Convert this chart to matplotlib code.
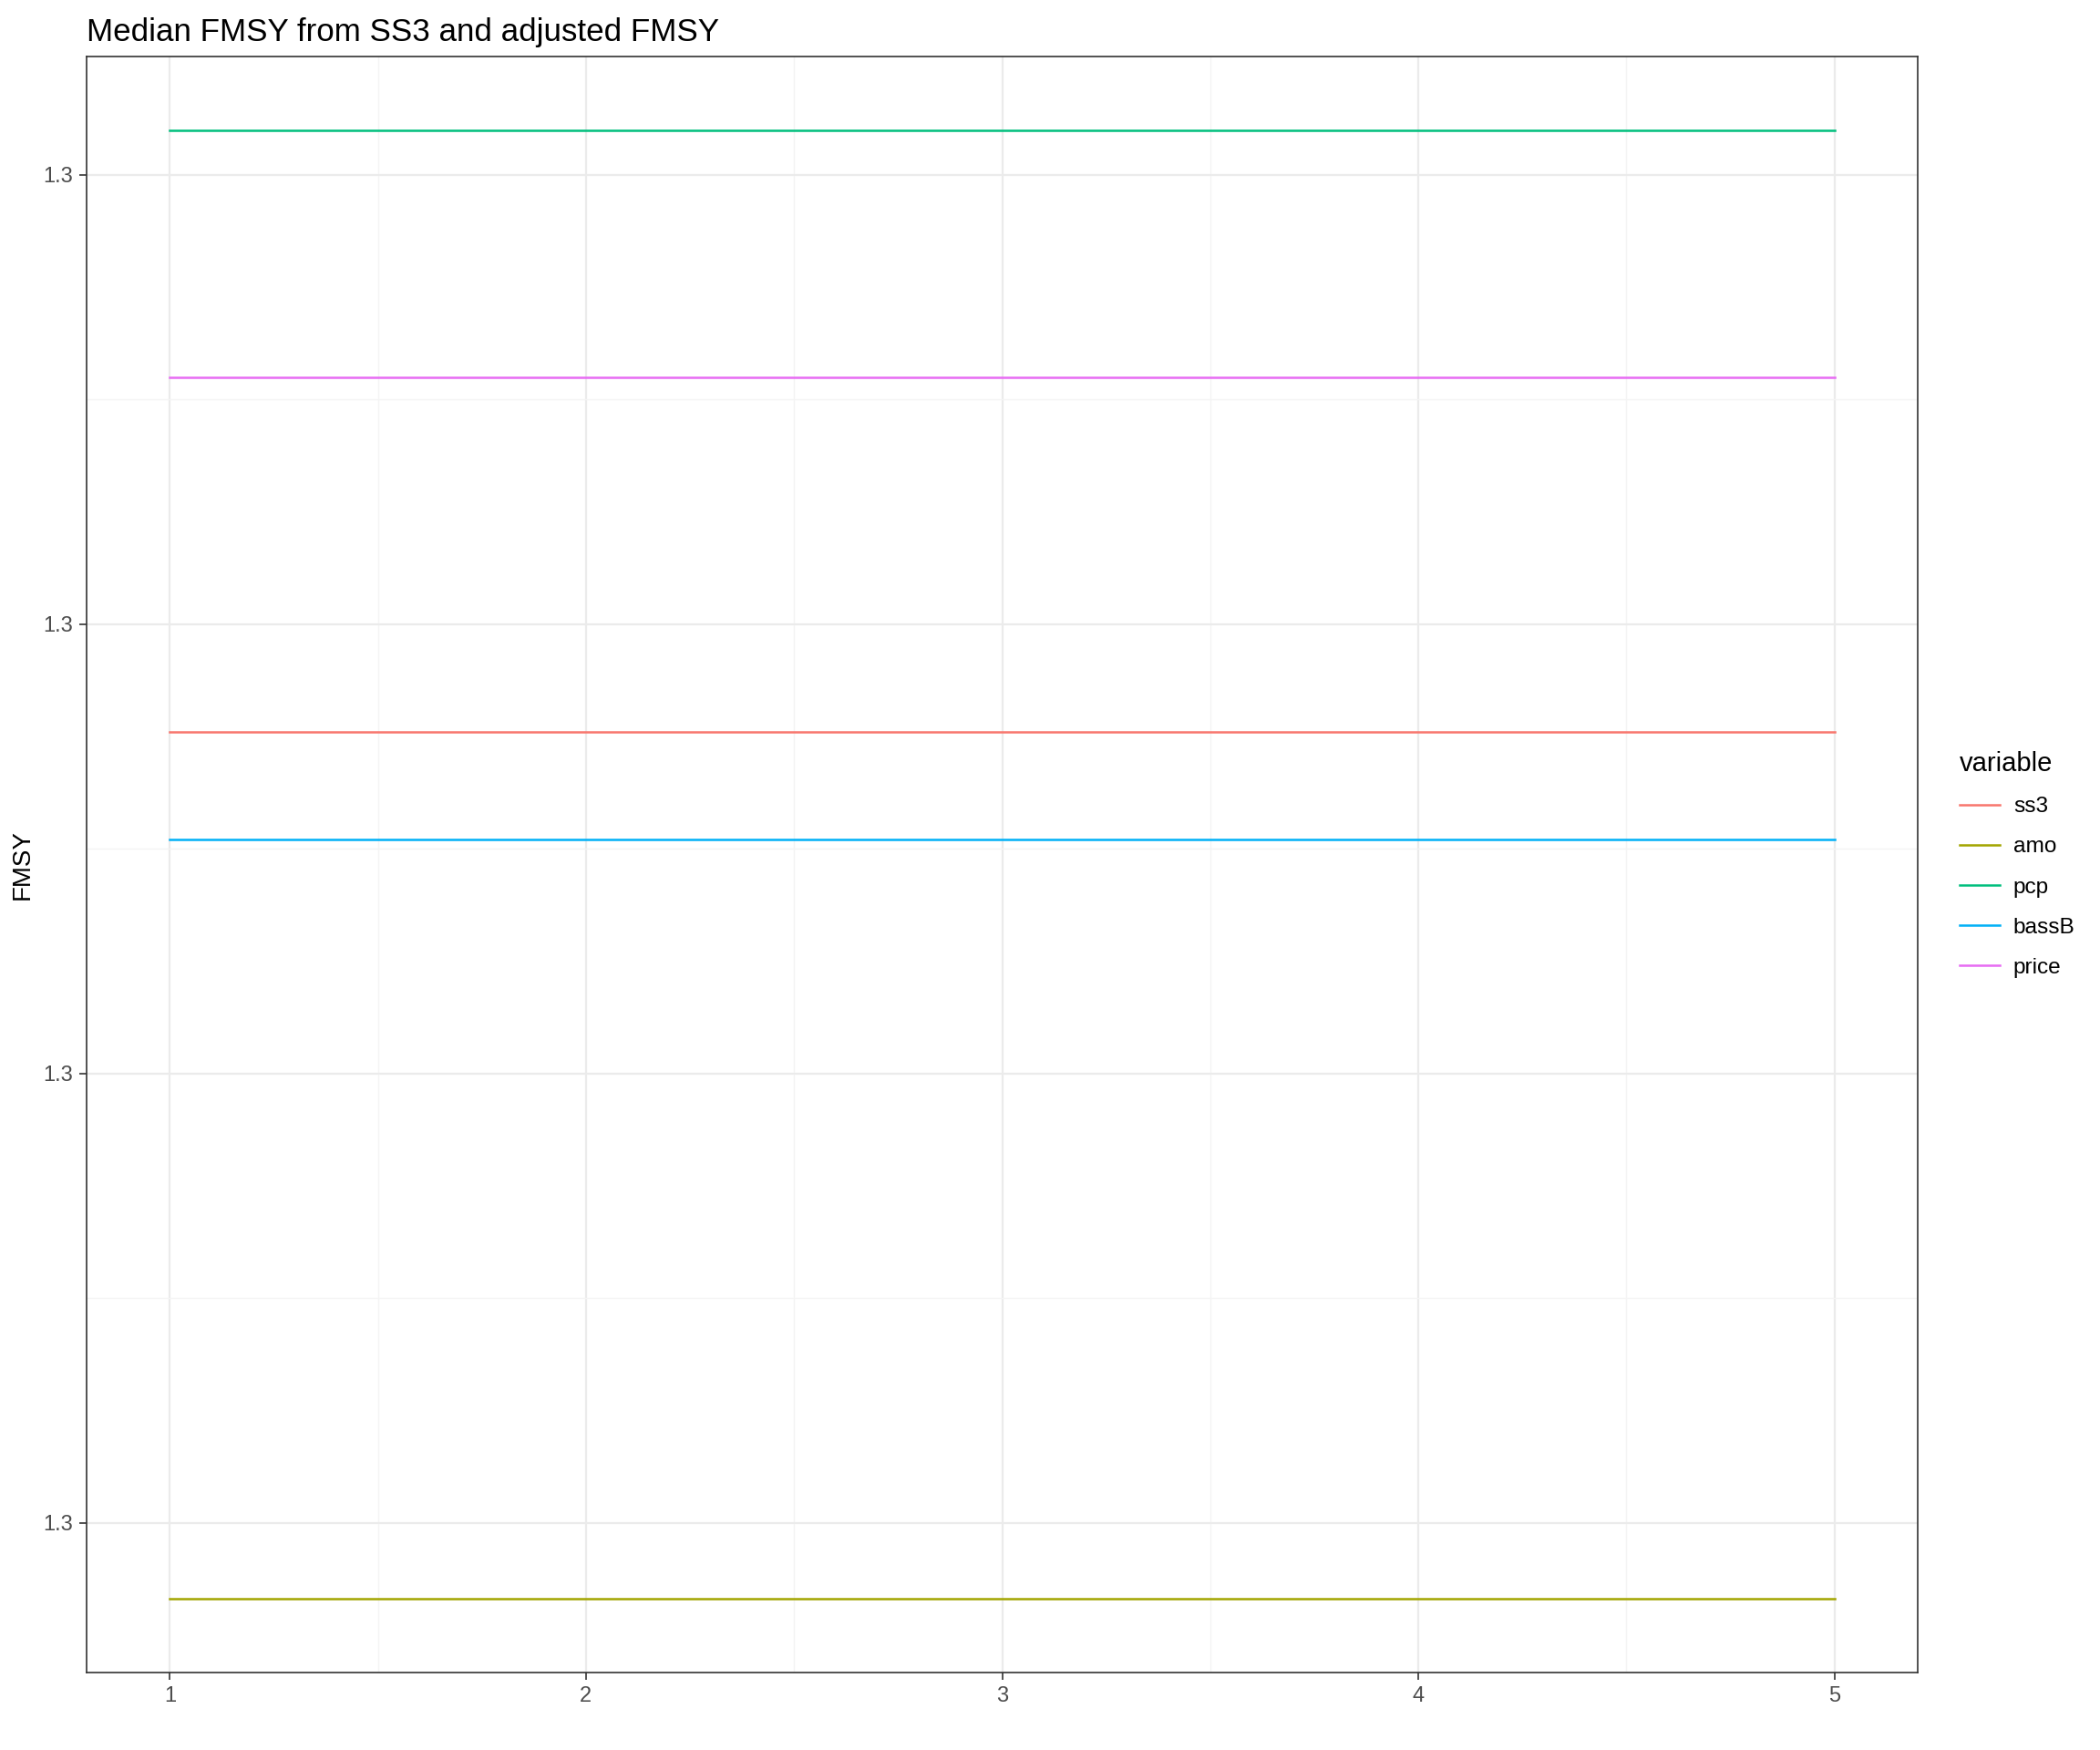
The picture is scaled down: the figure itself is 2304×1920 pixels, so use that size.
import matplotlib
matplotlib.use("Agg")
import matplotlib.pyplot as plt
from matplotlib.ticker import FixedLocator, FormatStrFormatter

plt.rcParams['font.family'] = ['Liberation Sans', 'DejaVu Sans']

# model years on the x axis
years = [1, 2, 3, 4, 5]

# median FMSY per series (differences are far below the label precision)
ss3 = [1.3000000176] * 5
amo = [1.2999999983] * 5
pcp = [1.3000000310] * 5
bassB = [1.3000000152] * 5
price = [1.3000000255] * 5

series_names = ['ss3', 'amo', 'pcp', 'bassB', 'price']
series_values = [ss3, amo, pcp, bassB, price]
colors = ['#F8766D', '#A3A500', '#00BF7D', '#00B0F6', '#E76BF3']

y_ticks = [1.30000000, 1.30000001, 1.30000002, 1.30000003]
y_minor = [1.299999995, 1.300000005, 1.300000015, 1.300000025]

fig = plt.figure(figsize=(11.52, 9.6), dpi=200)
ax = fig.add_axes([95 / 2304, 1 - 1835 / 1920, (2104 - 95) / 2304, (1835 - 62) / 1920])

for name, vals, c in zip(series_names, series_values, colors):
    ax.plot(years, vals, color=c, lw=0.9, label=name, zorder=3)

ax.margins(x=0.05, y=0.05)
ax.set_xticks(years)
ax.yaxis.set_major_locator(FixedLocator(y_ticks))
ax.yaxis.set_minor_locator(FixedLocator(y_minor))
ax.xaxis.set_minor_locator(FixedLocator([1.5, 2.5, 3.5, 4.5]))
ax.yaxis.set_major_formatter(FormatStrFormatter('%.1f'))
ax.yaxis.get_offset_text().set_visible(False)

ax.grid(True, which='major', color='#EBEBEB', lw=0.8, zorder=0)
ax.grid(True, which='minor', color='#F4F4F4', lw=0.5, zorder=0)
ax.set_axisbelow(True)

for s in ax.spines.values():
    s.set_color('#333333')
    s.set_linewidth(0.6)

ax.tick_params(which='major', length=2.9, width=0.6, color='#333333',
               labelsize=8.5, labelcolor='#4D4D4D', pad=2.5)
ax.tick_params(which='minor', length=0)

ax.set_ylabel('FMSY', fontsize=10, labelpad=3.5)
ax.set_title('Median FMSY from SS3 and adjusted FMSY', loc='left', fontsize=12.6, pad=6)

leg = ax.legend(loc='center left', bbox_to_anchor=(1.012, 0.5), frameon=False,
                title='variable', fontsize=8.8, title_fontsize=10.5,
                handlelength=1.8, handletextpad=0.6, labelspacing=0.9,
                alignment='left')

fig.savefig('out.png', dpi=200)
plt.close(fig)
